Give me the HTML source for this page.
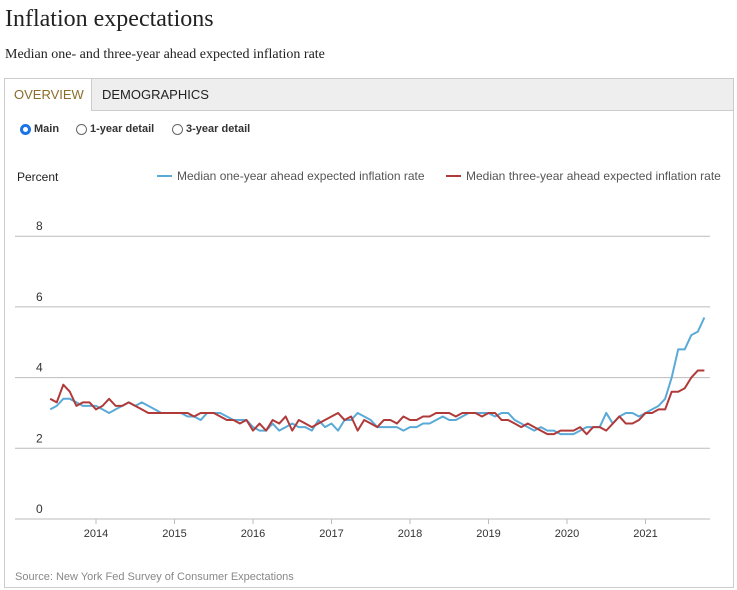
<!DOCTYPE html>
<html><head><meta charset="utf-8"><style>
body{margin:0;width:737px;height:590px;background:#fff;font-family:"Liberation Sans",sans-serif;overflow:hidden;position:relative}
.t{position:absolute;left:5px;top:6px;font:24px "Liberation Serif",serif;color:#222}
.s{position:absolute;left:5px;top:47px;font:14px "Liberation Serif",serif;color:#222}
.box{position:absolute;left:4px;top:78px;width:728px;height:508px;border:1px solid #ccc}
.tabs{position:absolute;left:0;top:0;width:728px;height:31px;background:#eee;border-bottom:1px solid #ccc}
.tab{position:absolute;top:0;height:31px;line-height:31px;font-size:13px;padding:0 9px}
.radio{position:absolute;top:123px;font-size:11px;color:#333;font-weight:bold}
.radio span{display:inline-block;width:11px;height:11px;border:1px solid #666;border-radius:50%;vertical-align:-3px;margin-right:3px;box-sizing:border-box}
</style></head><body>
<div class="t">Inflation expectations</div>
<div class="s">Median one- and three-year ahead expected inflation rate</div>
<div class="box">
<div class="tabs">
<div class="tab" style="left:0;width:68px;background:#fff;color:#8a6d2b;height:32px;border-right:1px solid #ccc">OVERVIEW</div>
<div class="tab" style="left:88px;color:#222">DEMOGRAPHICS</div>
</div></div>
<div class="radio" style="left:20px"><span style="border:3px solid #1a73e8;"></span>Main</div>
<div class="radio" style="left:76px"><span></span>1-year detail</div>
<div class="radio" style="left:172px"><span></span>3-year detail</div>
<svg id="c" width="737" height="590" style="position:absolute;left:0;top:0" font-family="Liberation Sans, sans-serif"></svg>
<script>
const years=[2014,2015,2016,2017,2018,2019,2020,2021];
const yTicks=[0,2,4,6,8];
const oneYear=[3.1,3.2,3.4,3.4,3.3,3.2,3.2,
3.2,3.1,3.0,3.1,3.2,3.3,3.2,3.3,3.2,3.1,3.0,3.0,
3.0,3.0,2.9,2.9,2.8,3.0,3.0,3.0,2.9,2.8,2.8,2.8,
2.6,2.5,2.5,2.7,2.5,2.6,2.7,2.6,2.6,2.5,2.8,2.6,
2.7,2.5,2.8,2.8,3.0,2.9,2.8,2.6,2.6,2.6,2.6,2.5,
2.6,2.6,2.7,2.7,2.8,2.9,2.8,2.8,2.9,3.0,3.0,3.0,
3.0,2.9,3.0,3.0,2.8,2.7,2.6,2.5,2.6,2.5,2.5,2.4,
2.4,2.4,2.5,2.6,2.6,2.6,3.0,2.7,2.9,3.0,3.0,2.9,
3.0,3.1,3.2,3.4,4.0,4.8,4.8,5.2,5.3,5.7];
const threeYear=[3.4,3.3,3.8,3.6,3.2,3.3,3.3,
3.1,3.2,3.4,3.2,3.2,3.3,3.2,3.1,3.0,3.0,3.0,3.0,
3.0,3.0,3.0,2.9,3.0,3.0,3.0,2.9,2.8,2.8,2.7,2.8,
2.5,2.7,2.5,2.8,2.7,2.9,2.5,2.8,2.7,2.6,2.7,2.8,
2.9,3.0,2.8,2.9,2.5,2.8,2.7,2.6,2.8,2.8,2.7,2.9,
2.8,2.8,2.9,2.9,3.0,3.0,3.0,2.9,3.0,3.0,3.0,2.9,
3.0,3.0,2.8,2.8,2.7,2.6,2.7,2.6,2.5,2.4,2.4,2.5,
2.5,2.5,2.6,2.4,2.6,2.6,2.5,2.7,2.9,2.7,2.7,2.8,
3.0,3.0,3.1,3.1,3.6,3.6,3.7,4.0,4.2,4.2];
const svg=document.getElementById('c');const NS='http://www.w3.org/2000/svg';
const X=m=>96+(m-7)*78.5/12; // m=0 is Jun 2013
const Xy=yr=>96+(yr-2014)*78.5;
const Y=v=>519-v*35.35;
function el(t,a){const e=document.createElementNS(NS,t);for(const k in a)e.setAttribute(k,a[k]);svg.appendChild(e);return e;}
yTicks.forEach(v=>{
const l=el('line',{x1:15,x2:710,y1:Y(v),y2:Y(v),stroke:'#bbb','stroke-width':1});


const t=el('text',{x:36,y:Y(v)-6,'font-size':12,fill:'#333'});t.textContent=v;


});
years.forEach(yr=>{
const t=el('text',{x:Xy(yr),y:537,'font-size':11,fill:'#333','text-anchor':'middle'});t.textContent=yr;


const k=el('line',{x1:Xy(yr),x2:Xy(yr),y1:519,y2:524,stroke:'#bbb'});


});
function line(d,c,n){const p=el('polyline',{points:d.map((v,i)=>X(i)+','+Y(v)).join(' '),fill:'none',stroke:c,'stroke-width':2,'stroke-linejoin':'round'});

}
line(oneYear,'#5aaad8','one-year-line');
line(threeYear,'#b03a3a','three-year-line');
let t=el('text',{x:17,y:181,'font-size':12,fill:'#222'});t.textContent='Percent';


let l1=el('line',{x1:157,x2:172,y1:176,y2:176,stroke:'#5aaad8','stroke-width':2});


t=el('text',{x:177,y:180,'font-size':12,fill:'#555'});t.textContent='Median one-year ahead expected inflation rate';


let l2=el('line',{x1:446,x2:461,y1:176,y2:176,stroke:'#b03a3a','stroke-width':2});


t=el('text',{x:466,y:180,'font-size':12,fill:'#555'});t.textContent='Median three-year ahead expected inflation rate';


t=el('text',{x:15,y:580,'font-size':11,fill:'#888'});t.textContent='Source: New York Fed Survey of Consumer Expectations';


</script>
</body></html>
